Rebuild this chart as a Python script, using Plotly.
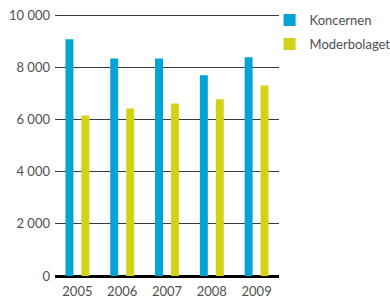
import plotly.graph_objects as go

years = ["2005", "2006", "2007", "2008", "2009"]
koncernen = [9070, 8340, 8340, 7690, 8380]
moderbolaget = [6150, 6420, 6610, 6770, 7300]
tick_vals = [0, 2000, 4000, 6000, 8000, 10000]
tick_text = ["0", "2 000", "4 000", "6 000", "8 000", "10 000"]

blue = "#00A3D4"
yellow = "#D4D216"
font = dict(family="Lato", size=13, color="#505050")

fig = go.Figure()
fig.add_trace(go.Bar(x=years, y=koncernen, name="Koncernen", marker=dict(color=blue, line=dict(width=0)), legendgroup="a"))
fig.add_trace(go.Bar(x=years, y=moderbolaget, name="Moderbolaget", marker=dict(color=yellow, line=dict(width=0)), legendgroup="b"))

fig.update_layout(
    width=390, height=299,
    margin=dict(l=55, r=111, t=13, b=23, autoexpand=False),
    paper_bgcolor="white", plot_bgcolor="white",
    barmode="group", bargap=0.289, bargroupgap=0.5,
    font=font,
    showlegend=True,
    legend=dict(x=0.958, y=1.030, xanchor="left", yanchor="top", font=dict(family="Lato", size=13, color="#505050"),
                traceorder="grouped", tracegroupgap=4, bgcolor="rgba(0,0,0,0)", itemwidth=30),
    xaxis=dict(type="category", range=[-0.5, 4.5], showgrid=False, showline=False, ticks="", tickfont=font,
               fixedrange=True, ticklabelstandoff=6),
    yaxis=dict(range=[0, 10080], tickvals=tick_vals, ticktext=tick_text, showgrid=True, gridcolor="#3a3a3a", gridwidth=1.3,
               zeroline=True, zerolinecolor="#000000", zerolinewidth=3, showline=False, ticks="", tickfont=font,
               ticklabelstandoff=4, ticklabeloverflow="allow"),
)
fig.write_html("out.html", config={"displayModeBar": False}, post_script="document.body.style.margin='0';")
